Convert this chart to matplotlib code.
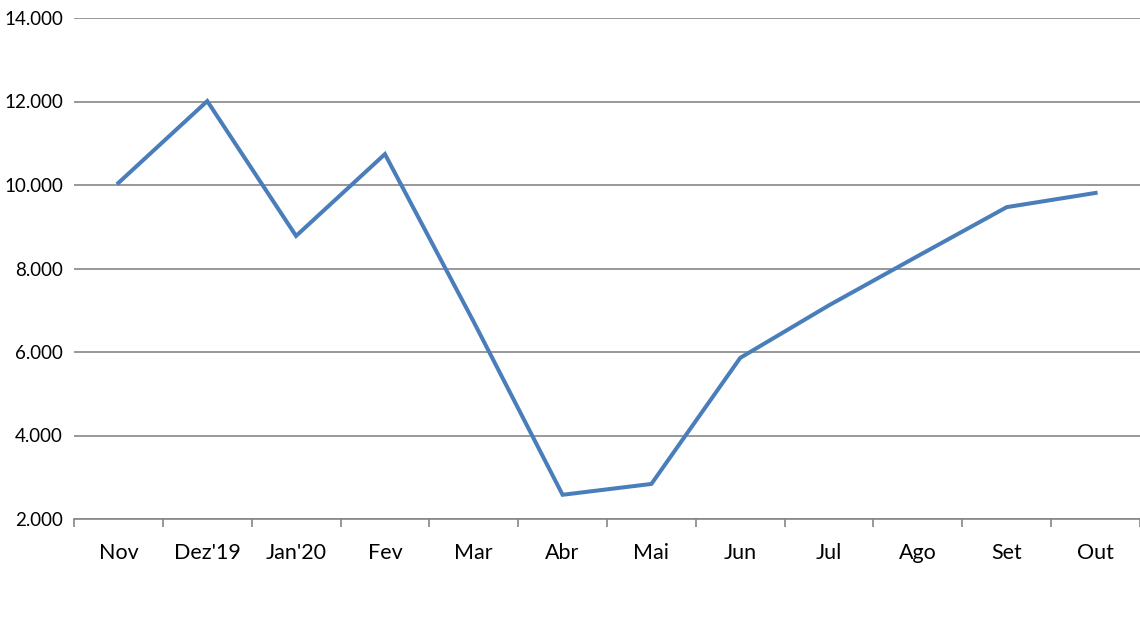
import matplotlib.pyplot as plt
from matplotlib.ticker import FuncFormatter, MultipleLocator

# months and values
meses = ["Nov", "Dez'19", "Jan'20", "Fev", "Mar", "Abr", "Mai", "Jun", "Jul", "Ago", "Set", "Out"]
valores = [10050, 12010, 8780, 10740, 6720, 2580, 2840, 5860, 7120, 8300, 9470, 9810]

plt.rcParams['font.family'] = ['Lato', 'DejaVu Sans']

fig = plt.figure(figsize=(11.4, 6.27), dpi=100)
ax = fig.add_axes([74/1140, 1-519/627, 1-74/1140, (519-18)/627])

x = range(len(meses))
ax.plot(x, valores, color='#4a7ebb', lw=2.9, solid_joinstyle='miter', zorder=3)

ax.set_xlim(-0.5, len(meses)-0.5)
ax.set_ylim(2000, 14000)
ax.yaxis.set_major_locator(MultipleLocator(2000))
ax.yaxis.set_major_formatter(FuncFormatter(lambda v, p: f"{int(v):,}".replace(",", ".")))
ax.grid(axis='y', color='#868686', lw=1.2)
ax.set_axisbelow(True)

# category labels centered, ticks between categories
ax.set_xticks(list(x))
ax.set_xticklabels(meses)
ax.set_xticks([i + 0.5 for i in range(-1, len(meses))], minor=True)
ax.tick_params(axis='x', which='major', length=0, pad=17, labelsize=15.5)
ax.tick_params(axis='x', which='minor', length=6, color='#868686', width=1.2, direction='out')
ax.tick_params(axis='y', length=0, pad=8, labelsize=13.5)

for s in ['top', 'right', 'left']:
    ax.spines[s].set_visible(False)
ax.spines['bottom'].set_color('#868686')
ax.spines['bottom'].set_linewidth(1.2)

fig.savefig('out.png', dpi=100)
